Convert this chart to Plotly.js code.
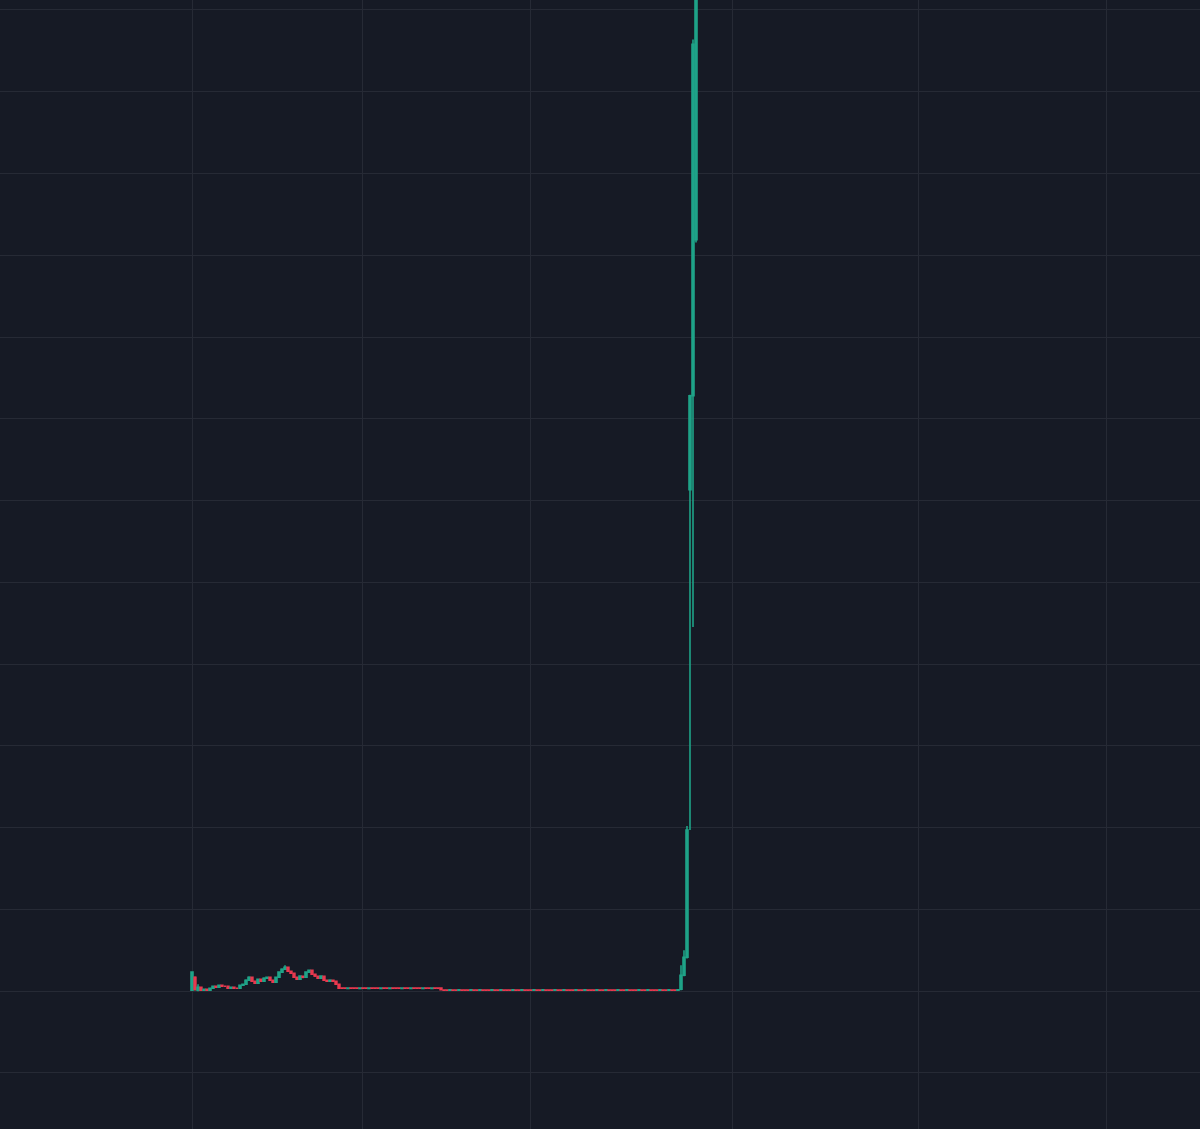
<!DOCTYPE html>
<html>
<head>
<meta charset="utf-8">
<script src="https://cdn.plot.ly/plotly-3.0.1.min.js"></script>
<style>
  html, body { margin: 0; padding: 0; background: #161a25; }
  #chart { width: 1200px; height: 1129px; }
</style>
</head>
<body>
<div id="chart"></div>
<script>
// candles, one per bar; early chop, long flat stretch, then the spike
var opens = [
    0.12, 1.71, 0.12, 0.49, 0.12, 0.24, 0.12, 0.37, 0.61, 0.49,
    0.73, 0.61, 0.61, 0.37, 0.49, 0.37, 0.37, 0.73, 0.86, 1.35,
    1.71, 1.22, 0.98, 1.47, 1.22, 1.59, 1.71, 1.35, 1.10, 1.71,
    2.33, 2.69, 2.94, 2.45, 2.20, 1.71, 1.47, 1.84, 1.71, 2.33,
    2.57, 2.08, 1.84, 1.59, 1.84, 1.35, 1.22, 1.35, 1.22, 0.86,
    // flat, upper step
    0.40, 0.40, 0.35, 0.40, 0.40, 0.40, 0.35, 0.40, 0.40, 0.35,
    0.40, 0.40, 0.40, 0.35, 0.40, 0.40, 0.35, 0.40, 0.40, 0.40,
    0.35, 0.40, 0.40, 0.35, 0.40, 0.40, 0.40, 0.35, 0.40, 0.40,
    0.35, 0.40, 0.40, 0.40,
    // flat, lower step
    0.16, 0.16, 0.11, 0.16, 0.16, 0.11, 0.16, 0.16, 0.16, 0.11,
    0.16, 0.16, 0.11, 0.16, 0.16, 0.16, 0.11, 0.16, 0.16, 0.11,
    0.16, 0.16, 0.16, 0.11, 0.16, 0.16, 0.11, 0.16, 0.16, 0.16,
    0.11, 0.16, 0.16, 0.11, 0.16, 0.16, 0.16, 0.11, 0.16, 0.16,
    0.11, 0.16, 0.16, 0.16, 0.11, 0.16, 0.16, 0.11, 0.16, 0.16,
    0.16, 0.11, 0.16, 0.16, 0.11, 0.16, 0.16, 0.16, 0.11, 0.16,
    0.16, 0.11, 0.16, 0.16, 0.16, 0.11, 0.16, 0.16, 0.11, 0.16,
    0.16, 0.16, 0.11, 0.16, 0.16, 0.11, 0.16, 0.16, 0.11,
    // spike
    0.24, 1.96, 4.16, 61.32, 72.83, 91.92
];
var closes = [
    2.33, 0.24, 0.49, 0.12, 0.24, 0.12, 0.37, 0.61, 0.49, 0.73,
    0.61, 0.61, 0.37, 0.49, 0.37, 0.37, 0.73, 0.86, 1.35, 1.71,
    1.22, 0.98, 1.47, 1.22, 1.59, 1.71, 1.35, 1.10, 1.71, 2.33,
    2.69, 2.94, 2.45, 2.20, 1.71, 1.47, 1.84, 1.71, 2.33, 2.57,
    2.08, 1.84, 1.59, 1.84, 1.35, 1.22, 1.35, 1.22, 0.86, 0.37,
    0.35, 0.35, 0.40, 0.35, 0.35, 0.35, 0.40, 0.35, 0.35, 0.40,
    0.35, 0.35, 0.35, 0.40, 0.35, 0.35, 0.40, 0.35, 0.35, 0.35,
    0.40, 0.35, 0.35, 0.40, 0.35, 0.35, 0.35, 0.40, 0.35, 0.35,
    0.40, 0.35, 0.35, 0.16,
    0.11, 0.11, 0.16, 0.11, 0.11, 0.16, 0.11, 0.11, 0.11, 0.16,
    0.11, 0.11, 0.16, 0.11, 0.11, 0.11, 0.16, 0.11, 0.11, 0.16,
    0.11, 0.11, 0.11, 0.16, 0.11, 0.11, 0.16, 0.11, 0.11, 0.11,
    0.16, 0.11, 0.11, 0.16, 0.11, 0.11, 0.11, 0.16, 0.11, 0.11,
    0.16, 0.11, 0.11, 0.11, 0.16, 0.11, 0.11, 0.16, 0.11, 0.11,
    0.11, 0.16, 0.11, 0.11, 0.16, 0.11, 0.11, 0.11, 0.16, 0.11,
    0.11, 0.16, 0.11, 0.11, 0.11, 0.16, 0.11, 0.11, 0.16, 0.11,
    0.11, 0.11, 0.16, 0.11, 0.11, 0.16, 0.11, 0.11, 0.16,
    1.96, 4.16, 19.71, 72.83, 115.79, 125.0
];
var highs = [
    2.45, 1.84, 0.86, 0.55, 0.30, 0.30, 0.45, 0.70, 0.65, 0.80,
    0.80, 0.70, 0.65, 0.55, 0.55, 0.45, 0.80, 0.95, 1.45, 1.84,
    1.80, 1.30, 1.55, 1.50, 1.70, 1.80, 1.75, 1.40, 1.80, 2.40,
    2.80, 3.18, 3.00, 2.50, 2.25, 1.75, 1.95, 1.90, 2.40, 2.65,
    2.60, 2.15, 1.90, 1.95, 1.90, 1.40, 1.45, 1.40, 1.30, 0.90,
    0.42, 0.42, 0.42, 0.42, 0.42, 0.42, 0.42, 0.42, 0.42, 0.42,
    0.42, 0.42, 0.42, 0.42, 0.42, 0.42, 0.42, 0.42, 0.42, 0.42,
    0.42, 0.42, 0.42, 0.42, 0.42, 0.42, 0.42, 0.42, 0.42, 0.42,
    0.42, 0.42, 0.42, 0.42,
    0.18, 0.18, 0.18, 0.18, 0.18, 0.18, 0.18, 0.18, 0.18, 0.18,
    0.18, 0.18, 0.18, 0.18, 0.18, 0.18, 0.18, 0.18, 0.18, 0.18,
    0.18, 0.18, 0.18, 0.18, 0.18, 0.18, 0.18, 0.18, 0.18, 0.18,
    0.18, 0.18, 0.18, 0.18, 0.18, 0.18, 0.18, 0.18, 0.18, 0.18,
    0.18, 0.18, 0.18, 0.18, 0.18, 0.18, 0.18, 0.18, 0.18, 0.18,
    0.18, 0.18, 0.18, 0.18, 0.18, 0.18, 0.18, 0.18, 0.18, 0.18,
    0.18, 0.18, 0.18, 0.18, 0.18, 0.18, 0.18, 0.18, 0.18, 0.18,
    0.18, 0.18, 0.18, 0.18, 0.18, 0.18, 0.18, 0.18, 0.18,
    3.18, 5.02, 20.20, 72.95, 116.40, 130.0
];
var lows = [
    0.10, 0.05, 0.00, 0.05, 0.08, 0.05, 0.08, 0.30, 0.40, 0.45,
    0.55, 0.55, 0.30, 0.30, 0.30, 0.30, 0.30, 0.65, 0.80, 1.25,
    1.15, 0.90, 0.90, 1.15, 1.15, 1.50, 1.30, 1.05, 1.05, 1.65,
    2.25, 2.60, 2.40, 2.10, 1.65, 1.40, 1.40, 1.60, 1.65, 2.25,
    2.00, 1.75, 1.50, 1.50, 1.30, 1.15, 1.15, 1.15, 0.80, 0.30,
    0.33, 0.33, 0.33, 0.33, 0.33, 0.33, 0.33, 0.33, 0.33, 0.33,
    0.33, 0.33, 0.33, 0.33, 0.33, 0.33, 0.33, 0.33, 0.33, 0.33,
    0.33, 0.33, 0.33, 0.33, 0.33, 0.33, 0.33, 0.33, 0.33, 0.33,
    0.33, 0.33, 0.33, 0.14,
    0.09, 0.09, 0.09, 0.09, 0.09, 0.09, 0.09, 0.09, 0.09, 0.09,
    0.09, 0.09, 0.09, 0.09, 0.09, 0.09, 0.09, 0.09, 0.09, 0.09,
    0.09, 0.09, 0.09, 0.09, 0.09, 0.09, 0.09, 0.09, 0.09, 0.09,
    0.09, 0.09, 0.09, 0.09, 0.09, 0.09, 0.09, 0.09, 0.09, 0.09,
    0.09, 0.09, 0.09, 0.09, 0.09, 0.09, 0.09, 0.09, 0.09, 0.09,
    0.09, 0.09, 0.09, 0.09, 0.09, 0.09, 0.09, 0.09, 0.09, 0.09,
    0.09, 0.09, 0.09, 0.09, 0.09, 0.09, 0.09, 0.09, 0.09, 0.09,
    0.09, 0.09, 0.09, 0.09, 0.09, 0.09, 0.09, 0.09, 0.09,
    0.12, 1.84, 4.00, 19.71, 44.55, 91.55
];

// vertical grid lines (bar index), no labels shown on the reference
var xGridAt = [0, 56.7, 112.7, 180, 242, 304.7];

var bars = [];
for (var i = 0; i < closes.length; i++) {
    bars.push(i);
}

var trace = {
    type: "candlestick",
    x: bars,
    open: opens,
    high: highs,
    low: lows,
    close: closes,
    increasing: { line: { color: "#1fa388", width: 1.6 }, fillcolor: "#1fa388" },
    decreasing: { line: { color: "#e8394f", width: 1.4 }, fillcolor: "#e8394f" },
    whiskerwidth: 0,
    hoverinfo: "skip"
};

var layout = {
    width: 1200,
    height: 1129,
    margin: { l: 0, r: 0, t: 0, b: 0, pad: 0 },
    paper_bgcolor: "#161a25",
    plot_bgcolor: "#161a25",
    showlegend: false,
    boxgap: 0.05,
    xaxis: {
        range: [-64, 336],
        tickmode: "array",
        tickvals: xGridAt,
        showticklabels: false,
        ticks: "",
        showgrid: true,
        gridcolor: "#262a35",
        gridwidth: 1,
        zeroline: false,
        showline: false,
        rangeslider: { visible: false }
    },
    yaxis: {
        range: [-16.85, 121.22],
        tick0: 0,
        dtick: 10,
        showticklabels: false,
        ticks: "",
        showgrid: true,
        gridcolor: "#262a35",
        gridwidth: 1,
        zeroline: false,
        showline: false
    }
};

Plotly.newPlot("chart", [trace], layout, { displayModeBar: false, staticPlot: true });
</script>
</body>
</html>
